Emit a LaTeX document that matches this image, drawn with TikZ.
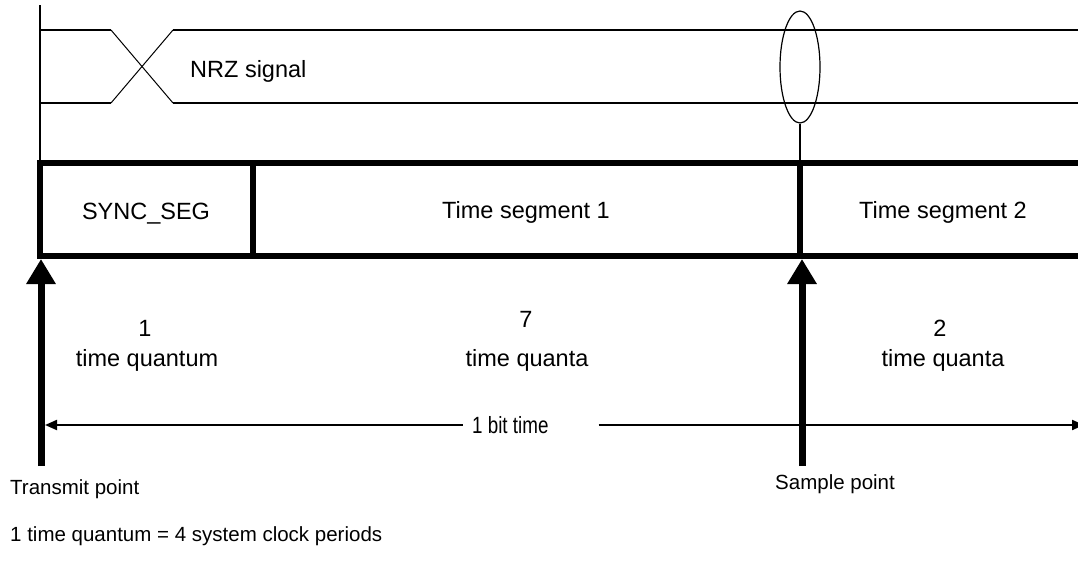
\documentclass[tikz,border=0pt]{standalone}
\usepackage{fontspec}
\setmainfont{Liberation Sans}
\usetikzlibrary{arrows.meta,shapes.geometric}
\begin{document}
\begin{tikzpicture}[x=1pt,y=-1pt,
  sig/.style={line width=1.8pt},
  crossline/.style={line width=1pt},
  segline/.style={line width=5.5pt},
  bigarrow/.style={line width=7pt,-{Triangle[length=25pt,width=28pt]}},
  dimline/.style={line width=2pt},
  lbl/.style={font=\fontsize{23.5}{28}\selectfont, inner sep=0pt, anchor=base},
  smalllbl/.style={font=\fontsize{20.5}{24}\selectfont, inner sep=0pt, anchor=base west},
]
\useasboundingbox (0,0) rectangle (1078,565);
\clip (0,0) rectangle (1078,565);
% left vertical reference line
\coordinate (vtop) at (40,5);
\coordinate (vbot) at (40,163);
\draw[sig] (vtop) -- (vbot);
% NRZ signal
\coordinate (a1) at (40,30);
\coordinate (a2) at (111,30);
\coordinate (a3) at (173,30);
\coordinate (a4) at (1080,30);
\coordinate (b1) at (40,103);
\coordinate (b2) at (111,103);
\coordinate (b3) at (173,103);
\coordinate (b4) at (1080,103);
\draw[sig] (a1) -- (a2);
\draw[sig] (b1) -- (b2);
\draw[crossline] (a2) -- (b3);
\draw[crossline] (b2) -- (a3);
\draw[sig] (a3) -- (a4);
\draw[sig] (b3) -- (b4);
\node[lbl, anchor=base west] (nrz) at (190,77) {NRZ signal};
% sample ellipse
\node[ellipse, draw, line width=1.2pt, minimum width=40pt, minimum height=112pt, inner sep=0pt] (samp) at (800,67) {};
\coordinate (sampbox) at (800,163);
\draw[sig] (samp.south) -- (sampbox);
% segment box
\draw[segline, line join=miter] (1090,163) -- (40,163) -- (40,256) -- (1090,256);
\draw[segline] (253,163) -- (253,256);
\draw[segline] (800,163) -- (800,256);
\node[lbl] (sync) at (146,219) {SYNC\_SEG};
\node[lbl] (ts1) at (526,218) {Time segment 1};
\node[lbl] (ts2) at (943,218) {Time segment 2};
% big arrows
\coordinate (tx0) at (41,466);
\coordinate (tx1) at (41,259);
\coordinate (sx0) at (802,466);
\coordinate (sx1) at (802,259);
\draw[bigarrow] (tx0) -- (tx1);
\draw[bigarrow] (sx0) -- (sx1);
% quanta labels
\node[lbl] (n1) at (145,336) {1};
\node[lbl] (q1) at (147,366) {time quantum};
\node[lbl] (n7) at (526,327) {7};
\node[lbl] (q7) at (527,366) {time quanta};
\node[lbl] (n2) at (940,336) {2};
\node[lbl] (q2) at (943,366) {time quanta};
% bit time dimension
\node[lbl, anchor=base west] (bit) at (472,433) {\scalebox{0.8}[1]{1 bit time}};
\coordinate (dl) at (45,425);
\coordinate (dr) at (1084,425);
\draw[dimline, {Triangle[length=12pt,width=10pt]}-] (dl) -- ([xshift=-9pt]bit.west |- dl);
\draw[dimline, -{Triangle[length=12pt,width=10pt]}] ([xshift=50pt]bit.east |- dr) -- (dr);
% bottom labels
\node[smalllbl] (tp) at (10,494) {Transmit point};
\node[smalllbl] (sp) at (775,489) {Sample point};
\node[smalllbl] (fn) at (10,541) {1 time quantum = 4 system clock periods};
\end{tikzpicture}
\end{document}
